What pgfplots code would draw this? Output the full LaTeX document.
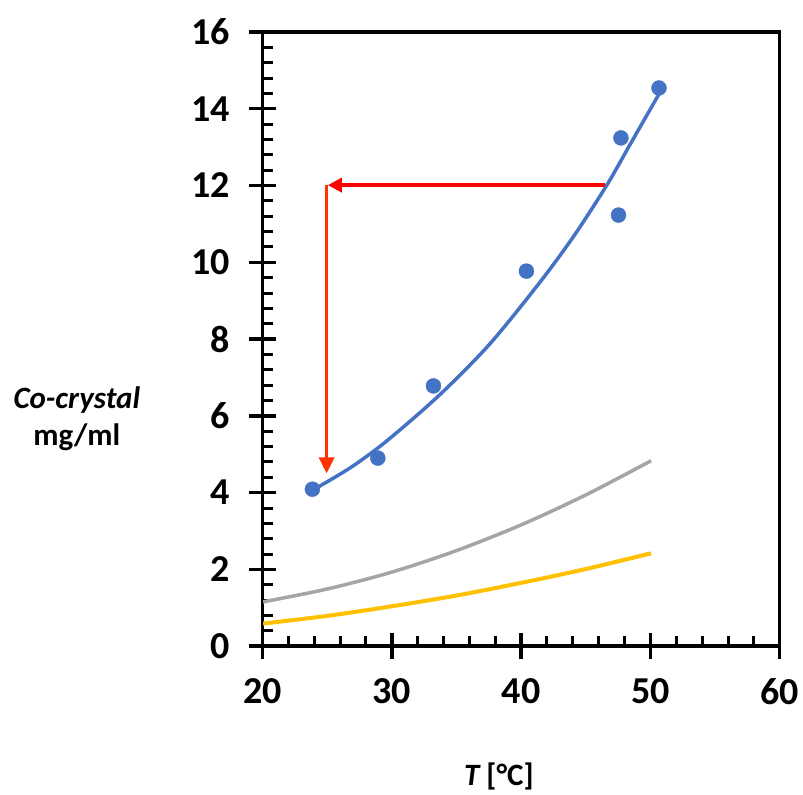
\documentclass[border=0pt]{standalone}
\usepackage{pgfplots}
\pgfplotsset{compat=1.18}
\usepackage{fontspec}
\setmainfont{Carlito}
\usetikzlibrary{arrows.meta}
\definecolor{cblue}{HTML}{4472C4}
\definecolor{cgray}{HTML}{A5A5A5}
\definecolor{cyellow}{HTML}{FFC000}
\definecolor{cred}{HTML}{FF0000}
\definecolor{cored}{HTML}{FF3300}
\begin{document}
\begin{tikzpicture}
\begin{axis}[
  scale only axis,
  width=517pt, height=614pt,
  xmin=20, xmax=60, ymin=0, ymax=16,
  xtick={20,30,...,60}, ytick={0,2,...,16},
  minor x tick num=4, minor y tick num=4,
  tick pos=left,
  tick align=center,
  major tick length=26pt,
  minor tick length=10pt,
  minor x tick style={yshift=5pt},
  minor y tick style={xshift=5pt},
  axis line style={line width=3.5pt},
  every tick/.style={black, line width=3.5pt},
  minor tick style={line width=3pt},
  /pgf/number format/assume math mode=true,
  ticklabel style={font=\fontsize{38}{40}\selectfont\bfseries},
  xticklabel style={yshift=-16pt},
  yticklabel style={xshift=-16pt},
  clip=false,
]
\addplot[cyellow, line width=4pt, smooth] coordinates {
  (20.05,0.59) (25,0.79) (30,1.04) (35,1.32) (40,1.65) (45,2.01) (50.05,2.42)
};
\addplot[cgray, line width=3.5pt, smooth] coordinates {
  (20.05,1.155) (25,1.49) (30,1.93) (35,2.49) (40,3.16) (45,3.94) (50.05,4.83)
};
\addplot[cblue, line width=3.5pt, smooth] coordinates {
  (23.96,4.08) (26.8,4.65) (29.62,5.35) (33.71,6.55) (37.57,7.87) (41.43,9.47)
  (44.07,10.68) (46.63,12.01) (48.48,13.1) (50.66,14.38)
};
\addplot[only marks, mark=*, mark size=7.5pt, mark options={fill=cblue, draw=cblue}] coordinates {
  (23.86,4.09) (28.92,4.90) (33.22,6.78) (40.41,9.77) (47.53,11.23) (47.72,13.24) (50.66,14.54)
};
\addplot[cred, line width=3.5pt, -{Triangle[length=14pt,width=14pt]}] coordinates {
  (46.48,12.01) (25.05,12.01)
};
\addplot[cored, line width=3.5pt, -{Triangle[length=16pt,width=15pt]}] coordinates {
  (24.96,12.01) (24.96,4.50)
};
\node[font=\fontsize{31}{37}\selectfont\bfseries, align=center] at (rel axis cs:-0.359,0.371)
  {\itshape Co-crystal\\mg/ml};
\node[font=\fontsize{31}{37}\selectfont\bfseries] at (rel axis cs:0.457,-0.212)
  {\itshape T\upshape\ [°C]};
\coordinate (bl) at (rel axis cs:-0.5075,-0.241);
\coordinate (tr) at (rel axis cs:1.045,1.052);
\end{axis}
\pgfresetboundingbox
\path[use as bounding box] (bl) rectangle (tr);
\end{tikzpicture}
\end{document}
